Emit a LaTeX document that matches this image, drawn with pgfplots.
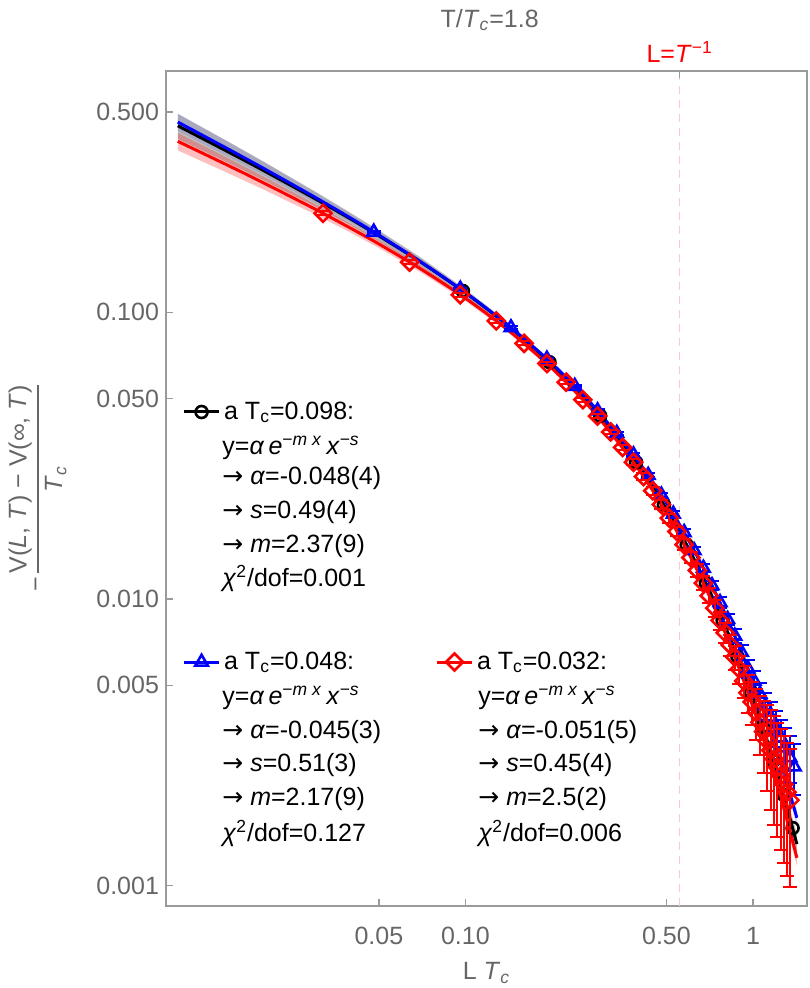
\documentclass[border=0pt]{standalone}
\usepackage{fontspec}
\setmainfont{Liberation Sans}
\newfontfamily\djv{DejaVu Sans}
\usepackage{pgfplots}
\usepackage{pgfplotstable}
\pgfplotsset{compat=1.18}
\definecolor{txtgray}{HTML}{666666}
\definecolor{framegray}{HTML}{9A9A9A}
\definecolor{dashpink}{HTML}{FFC8C8}
\newcommand{\fs}{\fontsize{12.5}{15}\selectfont}
\newcommand{\arr}{{\djv →}}

\pgfplotstableread{
x y
0.098 0.1187
0.196 0.0670
0.294 0.0436
0.392 0.0300
0.490 0.02131
0.588 0.01545
0.686 0.01136
0.784 0.00843
0.882 0.00631
0.980 0.00475
1.078 0.00359
1.176 0.00273
1.274 0.00208
1.372 0.00159
}\blackdata

\pgfplotstableread{
x y ey
0.048 0.1908 0.0019
0.096 0.1207 0.0012
0.144 0.0885 0.00089
0.192 0.0688 0.00069
0.240 0.0553 0.00055
0.288 0.0454 0.00045
0.336 0.0379 0.00045
0.384 0.0319 0.00045
0.432 0.02704 0.00043
0.480 0.02308 0.00044
0.528 0.01981 0.00044
0.576 0.01708 0.00043
0.624 0.01477 0.00041
0.672 0.01282 0.00041
0.720 0.01115 0.00040
0.768 0.00973 0.00040
0.816 0.00850 0.00040
0.864 0.00744 0.00040
0.912 0.00652 0.00040
0.960 0.00572 0.00041
1.008 0.00518 0.00042
1.056 0.00467 0.00044
1.104 0.00425 0.00047
1.152 0.00388 0.00049
1.200 0.00356 0.00050
1.248 0.00328 0.00051
1.296 0.00303 0.00052
1.344 0.00280 0.00052
1.392 0.00260 0.00052
}\bluedata

\pgfplotstableread{
x y ey
0.032 0.2216 0.0033
0.064 0.1497 0.0022
0.096 0.1152 0.0017
0.128 0.0934 0.0014
0.160 0.0780 0.0012
0.192 0.0663 0.0010
0.224 0.0571 0.00086
0.256 0.0496 0.00074
0.288 0.0435 0.00065
0.320 0.0383 0.00065
0.352 0.0338 0.00068
0.384 0.0300 0.00069
0.416 0.02675 0.00070
0.448 0.02388 0.00072
0.480 0.02137 0.00071
0.512 0.01916 0.00069
0.544 0.01721 0.00067
0.576 0.01549 0.00065
0.608 0.01395 0.00064
0.640 0.01259 0.00063
0.672 0.01137 0.00063
0.704 0.01028 0.00062
0.736 0.00930 0.00062
0.768 0.00842 0.00062
0.800 0.00763 0.00061
0.832 0.00692 0.00060
0.864 0.00628 0.00060
0.896 0.00570 0.00063
0.928 0.00518 0.00065
0.960 0.00471 0.00071
0.992 0.00438 0.00074
1.024 0.00403 0.00081
1.056 0.00372 0.00086
1.088 0.00345 0.00097
1.120 0.00320 0.00106
1.152 0.00297 0.00113
1.184 0.00277 0.00114
1.216 0.00259 0.00111
1.248 0.00242 0.00109
1.280 0.00226 0.00106
1.312 0.00212 0.00104
1.344 0.00199 0.00100
}\reddata

\pgfplotsset{
  commonax/.style={scale only axis, width=320.5pt, height=417.5pt},
  legax/.style={commonax, hide axis, xmin=0, xmax=1, ymin=0, ymax=1,
    legend style={draw=none, fill=none, inner sep=0pt, outer sep=0pt,
      font=\fs, legend cell align=left}},
}

\begin{document}
\begin{tikzpicture}[font=\fs]
\begin{axis}[
  commonax,
  xmode=log, ymode=log,
  xmin=0.0091, xmax=1.54, ymin=0.00085, ymax=0.695,
  clip mode=individual,
  axis line style={framegray, line width=0.7pt},
  tick style={framegray, line width=0.7pt},
  major tick length=3.5pt,
  tick align=inside,
  xtick pos=bottom, ytick pos=left,
  xminorticks=false, yminorticks=false,
  xtick={0.05,0.1,0.5,1},
  xticklabels={\mbox{0.05},\mbox{0.10},\mbox{0.50},\mbox{1}},
  ytick={0.001,0.005,0.01,0.05,0.1,0.5},
  yticklabels={\mbox{0.001},\mbox{0.005},\mbox{0.010},\mbox{0.050},\mbox{0.100},\mbox{0.500}},
  ticklabel style={font=\fs, text=txtgray},
  xticklabel style={yshift=-7pt},
  xlabel={L \textit{T}\textsubscript{\textit{c}}},
  xlabel style={at={(axis description cs:0.5,-0.0802)}, anchor=center, text=txtgray, font=\fs},
  ylabel={−\,\setlength{\arrayrulewidth}{0.8pt}\renewcommand{\arraystretch}{1.15}\begin{tabular}[c]{@{}c@{}}V(\textit{L}, \textit{T}) − V(∞, \textit{T})\\\hline \textit{T}\textsubscript{\textit{c}}\end{tabular}},
  ylabel style={at={(axis description cs:-0.2,0.5)}, anchor=center, text=txtgray, font=\fs},
]
\coordinate (SW) at (rel axis cs:0,0);
\coordinate (NE) at (rel axis cs:1,1);

% fit uncertainty bands
\addplot[draw=none, fill=blue!70!white, fill opacity=0.25, forget plot] coordinates {
(0.01,0.4934)(0.015,0.3932)(0.02,0.3333)(0.03,0.2627)(0.04,0.2205)(0.05,0.1920)(0.07,0.1541)(0.1,0.1197)(0.14,0.0921)(0.2,0.0672)(0.28,0.0476)(0.4,0.03052)(0.5,0.02197)(0.6,0.01617)(0.7,0.01206)(0.8,0.00910)(0.9,0.00692)(1.0,0.00532)(1.1,0.00411)(1.2,0.00318)(1.3,0.00247)(1.42,0.001836)
(1.42,0.001618)(1.3,0.00221)(1.2,0.00288)(1.1,0.00377)(1.0,0.00496)(0.9,0.00654)(0.8,0.00866)(0.7,0.01156)(0.6,0.01559)(0.5,0.02133)(0.4,0.02968)(0.28,0.0462)(0.2,0.0654)(0.14,0.0889)(0.1,0.1147)(0.07,0.1460)(0.05,0.1800)(0.04,0.2055)(0.03,0.2415)(0.02,0.3003)(0.015,0.3486)(0.01,0.4288)
} -- cycle;
\addplot[draw=none, fill=gray, fill opacity=0.5, forget plot] coordinates {
(0.01,0.4924)(0.015,0.3935)(0.02,0.3346)(0.03,0.2642)(0.04,0.2220)(0.05,0.1933)(0.07,0.1554)(0.1,0.1205)(0.14,0.0926)(0.2,0.0670)(0.28,0.0470)(0.4,0.02968)(0.5,0.02106)(0.6,0.01524)(0.7,0.01121)(0.8,0.00832)(0.9,0.00623)(1.0,0.00471)(1.1,0.00358)(1.2,0.00274)(1.3,0.00210)(1.42,0.00152)
(1.42,0.00127)(1.3,0.00178)(1.2,0.00238)(1.1,0.00318)(1.0,0.00427)(0.9,0.00575)(0.8,0.00776)(0.7,0.01055)(0.6,0.01450)(0.5,0.02016)(0.4,0.02852)(0.28,0.0452)(0.2,0.0644)(0.14,0.0880)(0.1,0.1135)(0.07,0.1440)(0.05,0.1767)(0.04,0.2008)(0.03,0.2342)(0.02,0.2880)(0.015,0.3319)(0.01,0.4028)
} -- cycle;
\addplot[draw=none, fill=red, fill opacity=0.25, forget plot] coordinates {
(0.01,0.4228)(0.015,0.3446)(0.02,0.2968)(0.03,0.2389)(0.04,0.2033)(0.05,0.1788)(0.07,0.1455)(0.1,0.1144)(0.14,0.0887)(0.2,0.0647)(0.28,0.0455)(0.4,0.02874)(0.5,0.02026)(0.6,0.01458)(0.7,0.01063)(0.8,0.00782)(0.9,0.00580)(1.0,0.00434)(1.1,0.00326)(1.2,0.00246)(1.3,0.00186)(1.42,0.001331)
(1.42,0.001173)(1.3,0.00166)(1.2,0.00222)(1.1,0.00300)(1.0,0.00404)(0.9,0.00548)(0.8,0.00744)(0.7,0.01019)(0.6,0.01406)(0.5,0.01966)(0.4,0.02794)(0.28,0.0443)(0.2,0.0629)(0.14,0.0855)(0.1,0.1096)(0.07,0.1379)(0.05,0.1678)(0.04,0.1895)(0.03,0.2197)(0.02,0.2674)(0.015,0.3056)(0.01,0.3674)
} -- cycle;

% L = 1/T line
\draw[dashpink, line width=0.7pt, dash pattern=on 4pt off 3pt] (axis cs:0.5556,0.00085) -- (axis cs:0.5556,0.695);
\draw[framegray, line width=0.7pt] (axis cs:0.5556,0.695) -- ++(0pt,-3.5pt);

% fits
\addplot[black, line width=1.5pt, smooth, forget plot] coordinates {
(0.01,0.4476)(0.015,0.3627)(0.02,0.3113)(0.03,0.2492)(0.04,0.2114)(0.05,0.1850)(0.07,0.1497)(0.1,0.1170)(0.14,0.0903)(0.2,0.0657)(0.28,0.0461)(0.4,0.0291)(0.5,0.02061)(0.6,0.01487)(0.7,0.01088)(0.8,0.00804)(0.9,0.00599)(1.0,0.00449)(1.1,0.00338)(1.2,0.00256)(1.3,0.00194)(1.42,0.001398)};
\addplot[blue, line width=1.5pt, smooth, forget plot] coordinates {
(0.01,0.4611)(0.015,0.3709)(0.02,0.3168)(0.03,0.2521)(0.04,0.2130)(0.05,0.1860)(0.07,0.1500)(0.1,0.1172)(0.14,0.0905)(0.2,0.0663)(0.28,0.0469)(0.4,0.0301)(0.5,0.02165)(0.6,0.01588)(0.7,0.01181)(0.8,0.00888)(0.9,0.00673)(1.0,0.00514)(1.1,0.00394)(1.2,0.00303)(1.3,0.00234)(1.42,0.001727)};
\addplot[red, line width=1.5pt, smooth, forget plot] coordinates {
(0.01,0.3951)(0.015,0.3251)(0.02,0.2821)(0.03,0.2293)(0.04,0.1964)(0.05,0.1733)(0.07,0.1417)(0.1,0.1120)(0.14,0.0871)(0.2,0.0638)(0.28,0.0449)(0.4,0.02834)(0.5,0.01996)(0.6,0.01432)(0.7,0.01041)(0.8,0.00763)(0.9,0.00564)(1.0,0.00419)(1.1,0.00313)(1.2,0.00234)(1.3,0.00176)(1.42,0.001252)};

% data
\addplot[forget plot, only marks, black, mark=o, mark size=3pt, mark options={fill=white, line width=1.3pt}] table[x=x,y=y] {\blackdata};
\addplot[forget plot, only marks, blue, mark=triangle, mark size=3.6pt, mark options={fill=white, line width=1.3pt},
  error bars/.cd, y dir=both, y explicit,
  error bar style={line width=1pt, blue},
  error mark options={line width=1pt, mark size=3.5pt, blue, rotate=90}] table[x=x,y=y,y error=ey] {\bluedata};
\addplot[forget plot, only marks, red, mark=square, mark size=3pt, mark options={rotate=45, fill=white, line width=1.3pt},
  error bars/.cd, y dir=both, y explicit,
  error bar style={line width=1pt, red},
  error mark options={line width=1pt, mark size=3.5pt, red, rotate=90}] table[x=x,y=y,y error=ey] {\reddata};

% titles
\node[text=txtgray, font=\fs] at (axis description cs:0.505,1.0611) {T/\textit{T}\textsubscript{\textit{c}}=1.8};
\node[text=red, font=\fs] at ([yshift=9.5pt]axis cs:0.5556,0.695) {L=\textit{T}\textsuperscript{−1}};

% legend text lines
\begin{scope}[every node/.style={anchor=base west, font=\fs, inner sep=0pt}]
\node at (axis description cs:0.0874,0.5413) {y=\textit{α}\,\textit{e}\textsuperscript{−\textit{m} \textit{x}}\,\textit{x}\textsuperscript{−\textit{s}}};
\node at (axis description cs:0.0874,0.5042) {\arr\ \textit{α}=-0.048(4)};
\node at (axis description cs:0.0874,0.4635) {\arr\ \textit{s}=0.49(4)};
\node at (axis description cs:0.0874,0.4228) {\arr\ \textit{m}=2.37(9)};
\node at (axis description cs:0.0874,0.3832) {\textit{χ}\textsuperscript{2}/dof=0.001};

\node at (axis description cs:0.0874,0.2419) {y=\textit{α}\,\textit{e}\textsuperscript{−\textit{m} \textit{x}}\,\textit{x}\textsuperscript{−\textit{s}}};
\node at (axis description cs:0.0874,0.2012) {\arr\ \textit{α}=-0.045(3)};
\node at (axis description cs:0.0874,0.1605) {\arr\ \textit{s}=0.51(3)};
\node at (axis description cs:0.0874,0.1198) {\arr\ \textit{m}=2.17(9)};
\node at (axis description cs:0.0874,0.0778) {\textit{χ}\textsuperscript{2}/dof=0.127};

\node at (axis description cs:0.4867,0.2419) {y=\textit{α}\,\textit{e}\textsuperscript{−\textit{m} \textit{x}}\,\textit{x}\textsuperscript{−\textit{s}}};
\node at (axis description cs:0.4867,0.2012) {\arr\ \textit{α}=-0.051(5)};
\node at (axis description cs:0.4867,0.1605) {\arr\ \textit{s}=0.45(4)};
\node at (axis description cs:0.4867,0.1198) {\arr\ \textit{m}=2.5(2)};
\node at (axis description cs:0.4867,0.0778) {\textit{χ}\textsuperscript{2}/dof=0.006};
\end{scope}
\end{axis}

\begin{axis}[legax, legend style={at={(axis description cs:0.0265,0.5916)}, anchor=west}]
\addlegendimage{black, line width=1.5pt, mark=o, mark size=3pt, mark options={fill=white, line width=1.3pt, solid}}
\addlegendentry{a T\textsubscript{c}=0.098:}
\end{axis}
\begin{axis}[legax, legend style={at={(axis description cs:0.0265,0.2922)}, anchor=west}]
\addlegendimage{blue, line width=1.5pt, mark=triangle, mark size=3.6pt, mark options={fill=white, line width=1.3pt, solid}}
\addlegendentry{a T\textsubscript{c}=0.048:}
\end{axis}
\begin{axis}[legax, legend style={at={(axis description cs:0.421,0.2922)}, anchor=west}]
\addlegendimage{red, line width=1.5pt, mark=square, mark size=3pt, mark options={rotate=45, fill=white, line width=1.3pt, solid}}
\addlegendentry{a T\textsubscript{c}=0.032:}
\end{axis}

\pgfresetboundingbox
\path ([shift={(-83pt,-41pt)}]SW) rectangle ([shift={(1pt,35.5pt)}]NE);
\end{tikzpicture}
\end{document}
